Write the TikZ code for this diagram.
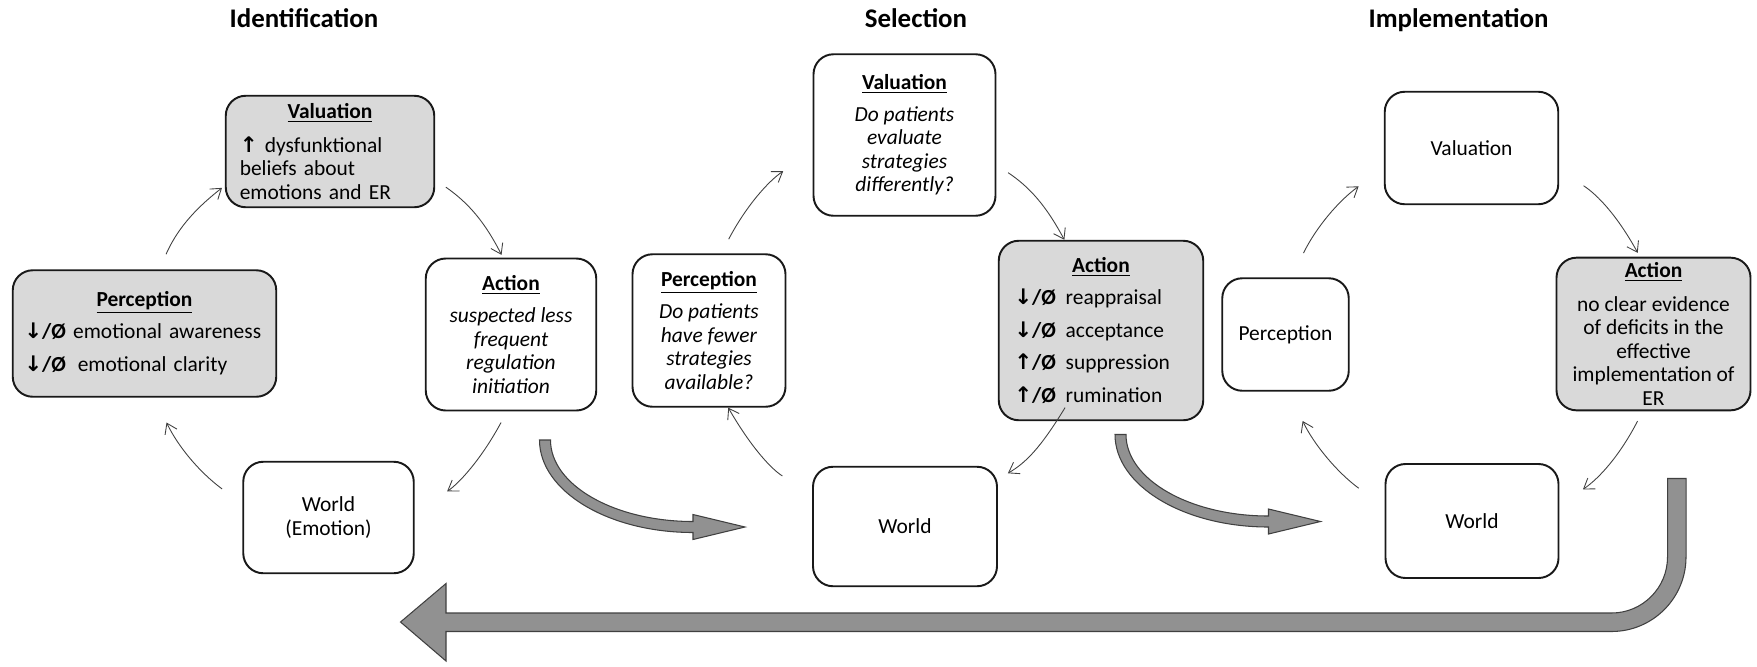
\documentclass[tikz,border=0pt]{standalone}
\usepackage{fontspec}
\setmainfont{Carlito}
\newfontfamily\arrowfont{DejaVu Sans}
\usetikzlibrary{arrows.meta}

\newcommand{\downnull}{\textbf{{\arrowfont ↓}/Ø}}
\newcommand{\upnull}{\textbf{{\arrowfont ↑}/Ø}}

\begin{document}
\begin{tikzpicture}[
    box/.style={draw=black!90, line width=1.1pt, rounded corners=0.4cm, align=center,
      inner sep=0.1cm, font=\fontsize{12.2}{13.4}\selectfont},
    shaded/.style={box, fill=black!15},
    leftbox/.style={shaded, align=left, inner xsep=0.28cm},
    title/.style={font=\fontsize{15.3}{18}\selectfont\bfseries, anchor=base},
    arr/.style={-{Straight Barb[length=5.5pt, width=7.5pt]}, draw=black!75, line width=0.5pt, bend left=14},
    bigarrow/.style={fill=black!43, draw=black!75, line width=0.6pt},
  ]
    \useasboundingbox (0,0) rectangle (35.14,-13.33);

    \node[title] (ident) at (6.08,-0.55) {Identification};
    \node[title] (select) at (18.32,-0.55) {Selection};
    \node[title] (implem) at (29.17,-0.55) {Implementation};

    \node[leftbox, minimum width=4.17cm, minimum height=2.23cm, text width=3.61cm] (val1) at (6.60,-3.03)
      {\centerline{\underline{\textbf{Valuation}}}\vspace{5.5pt}
       {\arrowfont\bfseries ↑} dysfunktional\\beliefs about\\emotions and ER};
    \node[leftbox, minimum width=5.27cm, minimum height=2.53cm, text width=4.81cm, inner xsep=0.23cm] (per1) at (2.89,-6.67)
      {\centerline{\underline{\textbf{Perception}}}\vspace{4.6pt}
       \mbox{\downnull\ emotional awareness}\\[5.6pt]\mbox{\downnull\hspace{0.55em}emotional clarity}};
    \node[box, minimum width=3.41cm, minimum height=3.04cm] (act1) at (10.22,-6.69)
      {\underline{\textbf{Action}}\\[4.6pt]\textit{suspected less}\\\textit{frequent}\\\textit{regulation}\\\textit{initiation}};
    \node[box, minimum width=3.41cm, minimum height=2.23cm] (wld1) at (6.57,-10.35) {World\\(Emotion)};

    \node[box, minimum width=3.06cm, minimum height=3.05cm] (per2) at (14.18,-6.61)
      {\underline{\textbf{Perception}}\\[4.6pt]\textit{Do patients}\\\textit{have fewer}\\\textit{strategies}\\\textit{available?}};
    \node[box, minimum width=3.64cm, minimum height=3.23cm] (val2) at (18.09,-2.70)
      {\underline{\textbf{Valuation}}\\[4.6pt]\textit{Do patients}\\\textit{evaluate}\\\textit{strategies}\\\textit{differently?}};
    \node[leftbox, minimum width=4.09cm, minimum height=3.59cm, text width=3.47cm, inner xsep=0.31cm] (act2) at (22.02,-6.61)
      {\centerline{\underline{\textbf{Action}}}\vspace{4.6pt}
       \downnull\hspace{0.45em}reappraisal\\[5.1pt]\downnull\hspace{0.45em}acceptance\\[5.1pt]
       \upnull\hspace{0.45em}suppression\\[5.1pt]\upnull\hspace{0.45em}rumination};
    \node[box, minimum width=3.68cm, minimum height=2.39cm] (wld2) at (18.10,-10.53) {World};

    \node[box, minimum width=2.53cm, minimum height=2.25cm] (per3) at (25.71,-6.69) {Perception};
    \node[box, minimum width=3.47cm, minimum height=2.25cm] (val3) at (29.43,-2.96) {Valuation};
    \node[shaded, minimum width=3.88cm, minimum height=3.04cm] (act3) at (33.07,-6.68)
      {\underline{\textbf{Action}}\\[5.6pt]no clear evidence\\of deficits in the\\effective\\implementation of\\ER};
    \node[box, minimum width=3.46cm, minimum height=2.28cm] (wld3) at (29.44,-10.42) {World};

    \draw[arr, shorten <=0.33cm, shorten >=0.07cm] (per1.77) to (val1.198);
    \draw[arr, shorten <=0.26cm, shorten >=0.06cm] (val1.345) to (act1.96);
    \draw[arr, shorten <=0.25cm, shorten >=0.78cm] (act1.267) to (wld1.3);
    \draw[arr, shorten <=0.50cm, shorten >=0.55cm] (wld1.171) to (per1.279);

    \draw[arr, shorten <=0.32cm, shorten >=0.71cm] (per2.81) to (val2.190);
    \draw[arr, shorten <=0.28cm] (val2.342) to (act2.112);
    \draw[arr, shorten <=-0.32cm, shorten >=0.23cm] (act2.244) to (wld2.27);
    \draw[arr, shorten <=0.70cm] (wld2.161) to (per2.284);

    \draw[arr, shorten <=0.54cm, shorten >=0.62cm] (per3.84) to (val3.193);
    \draw[arr, shorten <=0.58cm, shorten >=0.09cm] (val3.346) to (act3.100);
    \draw[arr, shorten <=0.22cm, shorten >=0.57cm] (act3.262) to (wld3.10);
    \draw[arr, shorten <=0.64cm, shorten >=0.65cm] (wld3.171) to (per3.273);

    \coordinate (turn1) at (13.86,-8.80);
    \coordinate (turn2) at (25.37,-8.69);
    \filldraw[bigarrow] ([xshift=-3.07cm]turn1) arc[start angle=180, end angle=270, x radius=3.07cm, y radius=1.85cm]
      -- ++(0,-0.14) -- ++(1.04,0.25) -- ++(-1.04,0.25) -- ++(0,-0.14)
      arc[start angle=270, end angle=180, x radius=2.85cm, y radius=1.63cm] -- cycle;
    \filldraw[bigarrow] ([xshift=-3.07cm]turn2) arc[start angle=180, end angle=270, x radius=3.07cm, y radius=1.85cm]
      -- ++(0,-0.14) -- ++(1.04,0.25) -- ++(-1.04,0.25) -- ++(0,-0.14)
      arc[start angle=270, end angle=180, x radius=2.85cm, y radius=1.63cm] -- cycle;

    \filldraw[bigarrow] (33.35,-9.57) -- (33.35,-11.14) arc[start angle=0, end angle=-90, radius=1.12cm]
      -- (8.92,-12.26) -- (8.92,-11.67) -- (8.01,-12.44) -- (8.92,-13.22) -- (8.92,-12.63)
      -- (32.23,-12.63) arc[start angle=-90, end angle=0, radius=1.49cm] -- (33.72,-9.57) -- cycle;
  \end{tikzpicture}
\end{document}
